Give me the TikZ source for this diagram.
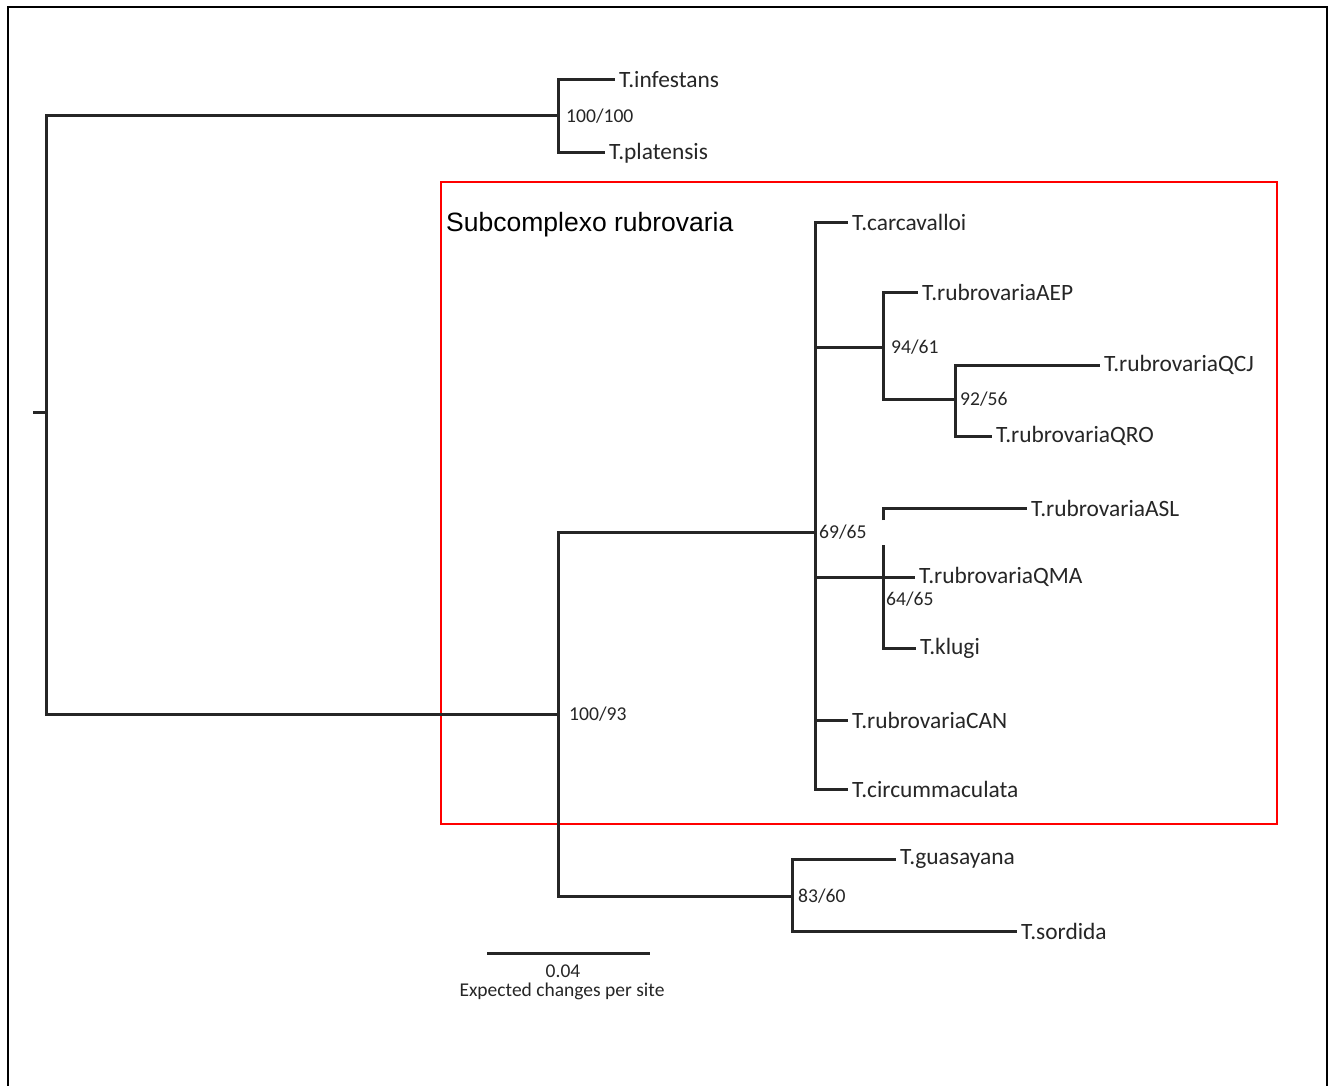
\documentclass[tikz,border=0pt]{standalone}
\usepackage{fontspec}
\setmainfont{Carlito}
\newfontfamily\arialfont{Liberation Sans}
\tikzset{
  branch/.style={line width=3pt,draw=black!85},
  tip/.style={anchor=west,inner xsep=4pt,inner ysep=1pt,text=black!85,font=\fontsize{23.4}{27}\selectfont},
  support/.style={anchor=west,inner sep=2pt,text=black!85,font=\fontsize{19.6}{23}\selectfont},
  scaletxt/.style={inner sep=1pt,text=black!85,font=\fontsize{19.5}{23}\selectfont}
}
\begin{document}
\begin{tikzpicture}[x=1pt,y=-1pt]
\useasboundingbox (0,0) rectangle (1335,1086);
\fill[white] (0,0) rectangle (1335,1086);
\draw[line width=2.6pt] (8,7) rectangle (1327,1110);
% subcomplex box
\draw[red,line width=2pt] (441,182) rectangle (1277,824);
\node[anchor=west,inner sep=2pt,font=\arialfont\fontsize{26.5}{30}\selectfont] (title) at (444,225) {Subcomplexo rubrovaria};
% internal nodes
\coordinate (stub) at (33,412);
\coordinate (root) at (46,412);
\coordinate (n100a) at (558,116);
\coordinate (n100b) at (558,714);
\coordinate (n69) at (815,532);
\coordinate (n94) at (883,347);
\coordinate (n92) at (955,399);
\coordinate (n64) at (883,577);
\coordinate (gapA) at (883,520);
\coordinate (gapB) at (883,545);
\coordinate (n83) at (792,896);
% tips
\node[tip] (infestans) at (615,80) {T.infestans};
\node[tip] (platensis) at (605,153) {T.platensis};
\node[tip] (carcavalloi) at (848,222) {T.carcavalloi};
\node[tip] (aep) at (918,292) {T.rubrovariaAEP};
\node[tip] (qcj) at (1100,365) {T.rubrovariaQCJ};
\node[tip] (qro) at (992,436) {T.rubrovariaQRO};
\node[tip] (asl) at (1027,508) {T.rubrovariaASL};
\node[tip] (qma) at (915,577) {T.rubrovariaQMA};
\node[tip] (klugi) at (916,648) {T.klugi};
\node[tip] (can) at (848,720) {T.rubrovariaCAN};
\node[tip] (circum) at (848,789) {T.circummaculata};
\node[tip] (guasayana) at (896,859) {T.guasayana};
\node[tip] (sordida) at (1017,931) {T.sordida};
% branches
\draw[branch] (stub) -- (root);
\draw[branch] (root) |- (n100a);
\draw[branch] (root) |- (n100b);
\draw[branch] (n100a) |- (infestans.west);
\draw[branch] (n100a) |- (platensis.west);
\draw[branch] (n100b) |- (n69);
\draw[branch] (n100b) |- (n83);
\draw[branch] (n69) |- (carcavalloi.west);
\draw[branch] (n69) |- (n94);
\draw[branch] (n69) |- (n64);
\draw[branch] (n69) |- (can.west);
\draw[branch] (n69) |- (circum.west);
\draw[branch] (n94) |- (aep.west);
\draw[branch] (n94) |- (n92);
\draw[branch] (n92) |- (qcj.west);
\draw[branch] (n92) |- (qro.west);
\draw[branch] (gapA) |- (asl.west);
\draw[branch] (gapB) |- (klugi.west);
\draw[branch] (n64) -- (qma.west);
\draw[branch] (n83) |- (guasayana.west);
\draw[branch] (n83) |- (sordida.west);
% support values
\node[support] (s100a) at ([xshift=6pt]n100a) {100/100};
\node[support] (s100b) at ([xshift=9pt]n100b) {100/93};
\node[support] (s69) at ([xshift=2pt]n69) {69/65};
\node[support] (s94) at ([xshift=6pt]n94) {94/61};
\node[support] (s92) at ([xshift=3pt]n92) {92/56};
\node[support] (s64) at ([shift={(1,22)}]n64) {64/65};
\node[support] (s83) at ([xshift=4pt]n83) {83/60};
% scale bar
\coordinate (sbl) at (487,953);
\coordinate (sbr) at (650,953);
\draw[branch] (sbl) -- (sbr);
\node[scaletxt] (sbval) at (563,971) {0.04};
\node[scaletxt] (sbtxt) at (562,991) {Expected changes per site};
\end{tikzpicture}
\end{document}
